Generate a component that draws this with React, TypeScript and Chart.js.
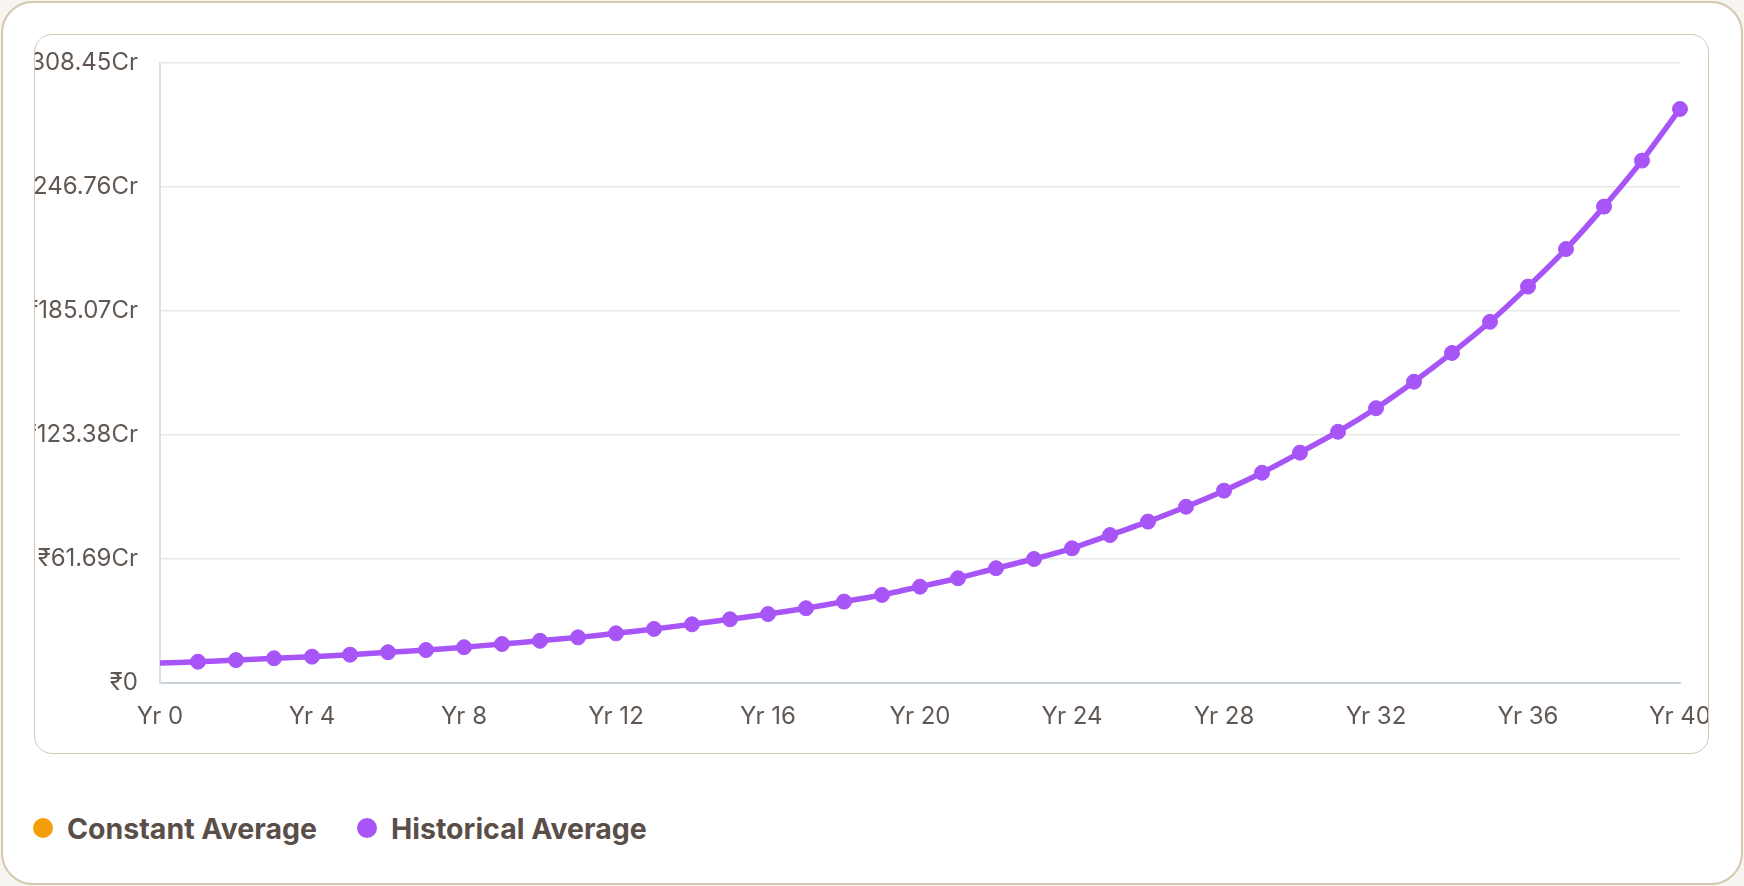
import React, { useEffect, useRef } from "react";
import Chart from "chart.js/auto";

// Años de proyección (Yr 0 .. Yr 40)
const years: string[] = Array.from({ length: 41 }, (_, i) => `Yr ${i}`);

// Valores, en Crores
const historicalAverage: number[] = [
  9.9, 10.6, 11.4, 12.3, 13.1, 14.1, 15.3, 16.4, 17.8, 19.4, 21.0, 22.7, 24.7,
  26.9, 29.2, 31.7, 34.3, 37.2, 40.5, 43.8, 47.9, 52.1, 57.1, 61.7, 67.0, 73.6,
  80.3, 87.7, 95.7, 104.6, 114.6, 125.0, 136.7, 149.9, 164.2, 179.7, 197.2,
  215.9, 237.0, 259.9, 285.6,
];
const constantAverage: number[] = [];

const yMax = 308.45;
const yStep = 61.69;

const legendItems = [
  { label: "Constant Average", color: "#f59e0b" },
  { label: "Historical Average", color: "#a855f7" },
];

const tickColor = "#625853";
const tickFont = { family: "Inter, 'Noto Sans', sans-serif", size: 24 };

const GrowthChart: React.FC = () => {
  const chartRef = useRef<HTMLCanvasElement>(null);
  const chartInstanceRef = useRef<Chart | null>(null);

  useEffect(() => {
    if (!chartRef.current) return;
    if (chartInstanceRef.current) {
      chartInstanceRef.current.destroy();
    }
    const ctx = chartRef.current.getContext("2d");
    if (!ctx) return;

    chartInstanceRef.current = new Chart(ctx, {
      type: "line",
      data: {
        labels: years,
        datasets: [
          {
            label: "Constant Average",
            data: constantAverage,
            borderColor: "#f59e0b",
            backgroundColor: "#f59e0b",
          },
          {
            label: "Historical Average",
            data: historicalAverage,
            borderColor: "#a855f7",
            backgroundColor: "#a855f7",
            borderWidth: 5.5,
            pointRadius: (c: any) => (c.dataIndex === 0 ? 0 : 7.5),
            pointBorderWidth: 1,
            pointBorderColor: "#a855f7",
            tension: 0.2,
          },
        ],
      },
      options: {
        responsive: true,
        maintainAspectRatio: false,
        animation: false,
        layout: { padding: { top: 28, right: 28, left: 0, bottom: 0 } },
        plugins: {
          legend: { display: false },
          tooltip: { enabled: false },
        },
        scales: {
          x: {
            grid: { display: false },
            border: { display: true, color: "#ccd4db", width: 2 },
            ticks: {
              color: tickColor,
              font: tickFont,
              padding: 11,
              maxRotation: 0,
              autoSkip: false,
              callback: (_v, i) => (i % 4 === 0 ? years[i] : ""),
            },
            afterFit: (scale: any) => {
              scale.height = 70;
              scale.paddingLeft = 0;
              scale.paddingRight = 0;
            },
          },
          y: {
            min: 0,
            max: yMax,
            grid: { color: "#e8e8ea", lineWidth: 1.5, drawTicks: false },
            border: { display: true, color: "#dde1e6", width: 2 },
            ticks: {
              stepSize: yStep,
              color: tickColor,
              font: tickFont,
              padding: 22,
              callback: (value) => {
                const v = Number(value);
                if (v === 0) return "₹0";
                return `₹${v.toFixed(2)}Cr`;
              },
            },
            afterFit: (scale: any) => {
              scale.width = 125;
              scale.paddingTop = 0;
              scale.paddingBottom = 0;
            },
          },
        },
      },
    });

    return () => {
      if (chartInstanceRef.current) {
        chartInstanceRef.current.destroy();
        chartInstanceRef.current = null;
      }
    };
  }, []);

  return <canvas ref={chartRef} />;
};

const App: React.FC = () => {
  return (
    <div
      style={{
        position: "relative",
        width: 1744,
        height: 886,
        background: "#f7f5f0",
        overflow: "hidden",
      }}
    >
      <style>{"body{margin:0}"}</style>
      <div
        style={{
          position: "absolute",
          left: 1,
          top: 1,
          width: 1742,
          height: 884,
          boxSizing: "border-box",
          border: "2.5px solid #d3c8ae",
          borderRadius: 32,
          background: "#ffffff",
        }}
      />
      <div
        style={{
          position: "absolute",
          left: 34,
          top: 34,
          width: 1675,
          height: 720,
          boxSizing: "border-box",
          border: "1.5px solid #d3c8ae",
          borderRadius: 18,
        }}
      />
      <div
        style={{
          position: "absolute",
          left: 35,
          top: 35,
          width: 1673,
          height: 718,
          overflow: "hidden",
        }}
      >
        <GrowthChart />
      </div>
      <div
        style={{
          position: "absolute",
          left: 33,
          top: 808,
          height: 40,
          display: "flex",
          alignItems: "center",
          fontFamily: "Inter, 'Noto Sans', sans-serif",
          fontWeight: 700,
          fontSize: 28.5,
          color: "#5a4f48",
        }}
      >
        {legendItems.map((item) => (
          <div
            key={item.label}
            style={{ display: "flex", alignItems: "center", marginRight: 40 }}
          >
            <span
              style={{
                width: 20,
                height: 20,
                borderRadius: "50%",
                background: item.color,
                marginRight: 14,
                display: "inline-block",
              }}
            />
            <span>{item.label}</span>
          </div>
        ))}
      </div>
    </div>
  );
};

export default App;
